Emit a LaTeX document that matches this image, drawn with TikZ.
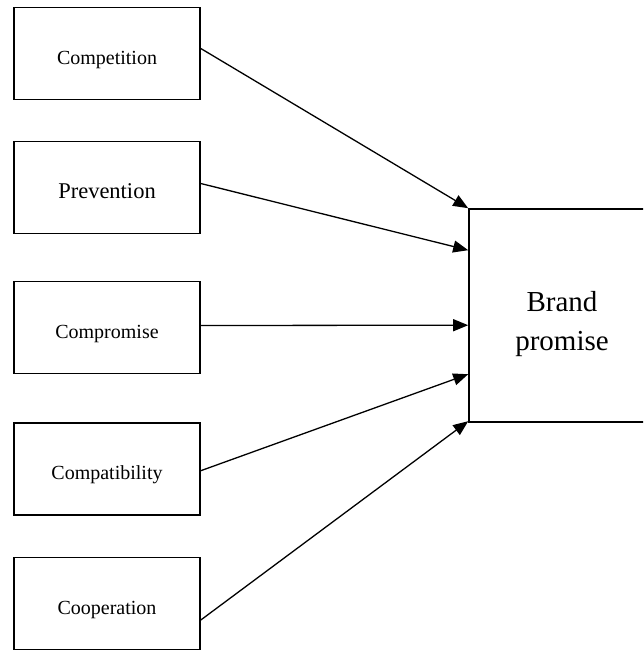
\documentclass[tikz,border=0pt]{standalone}
\usepackage{fontspec}
\setmainfont{Liberation Serif}
\usetikzlibrary{arrows.meta}

\begin{document}
\begin{tikzpicture}[x=1pt, y=-1pt,
    factor/.style={draw, line width=1.6pt, minimum width=186pt, minimum height=92pt,
      inner sep=0pt, text height=26pt, text depth=4pt, font=\fontsize{20}{24}\selectfont},
    target/.style={draw, line width=1.6pt, minimum width=186pt, minimum height=213pt,
      inner sep=0pt, text height=77pt, text depth=7pt, align=center,
      font=\fontsize{29}{39}\selectfont},
    flow/.style={line width=1.3pt, -{Triangle[length=15pt, width=12pt]}}]
  \useasboundingbox (0,0) rectangle (643,650);
  \clip (0,0) rectangle (643,650);
  \node[factor] (competition) at (107,53.5) {Competition};
  \node[factor, font=\fontsize{22.5}{27}\selectfont] (prevention) at (107,187.5) {Prevention};
  \node[factor] (compromise) at (107,327.5) {Compromise};
  \node[factor] (compatibility) at (107,468.7) {Compatibility};
  \node[factor] (cooperation) at (107,603.5) {Cooperation};
  \node[target] (brand) at (562,315.5) {Brand\\promise};
  % factors into the brand promise
  \foreach \src/\sy/\ty in {competition/5/0, prevention/4/-42, compromise/2/-117,
      compatibility/-2/-166, cooperation/-16.5/-213} {
    \draw[flow] ([yshift=\sy pt]\src.east) -- ([yshift=\ty pt]brand.north west);
  }
\end{tikzpicture}
\end{document}
